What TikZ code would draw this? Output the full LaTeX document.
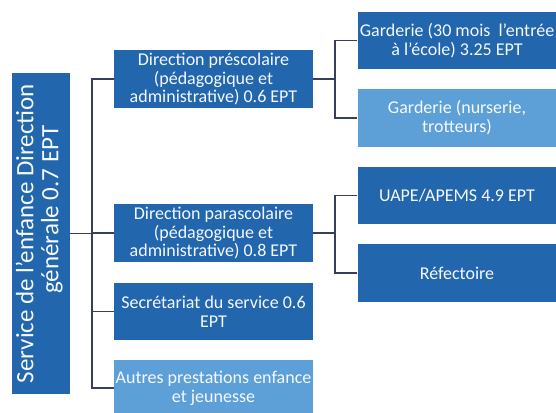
\documentclass[tikz,border=0pt]{standalone}
\usepackage{fontspec}
\setmainfont{Carlito}
\definecolor{dkblue}{RGB}{34,102,174}
\definecolor{ltblue}{RGB}{93,160,216}
\definecolor{linec}{RGB}{55,64,88}
\definecolor{txtw}{RGB}{246,249,253}
\begin{document}
\begin{tikzpicture}[x=1pt,y=-1pt,
  box/.style={fill=dkblue, text=txtw, minimum width=199pt, minimum height=58pt,
    inner sep=0pt, align=center, font=\fontsize{18}{18.8}\selectfont},
  lbox/.style={box, fill=ltblue},
  conn/.style={draw=linec, line width=1.5pt}]
\useasboundingbox (0,0) rectangle (556,412);
\fill[white] (0,0) rectangle (556,412);
\clip (0,0) rectangle (556,412);
% root
\node[box, minimum width=58.3pt, minimum height=321pt] (root) at (40.85,233.5)
  {\rotatebox{90}{\fontsize{25}{25}\selectfont\begin{tabular}{@{}c@{}}Service de l’enfance Direction\\\hspace*{1.9em}générale 0.7 EPT\end{tabular}}};
% middle column
\node[box] (b1) at (213.5,79) {Direction préscolaire\\(pédagogique et\\administrative) 0.6 EPT};
\node[box] (b2) at (213.5,233) {Direction parascolaire\\(pédagogique et\\administrative) 0.8 EPT};
\node[box, minimum height=57pt] (b3) at (213.5,311.5) {Secrétariat du service 0.6\\EPT};
\node[lbox, minimum height=57pt] (b4) at (213.5,388) {Autres prestations enfance\\et jeunesse};
% right column
\node[box, minimum height=57pt] (r1) at (457,40.5) {Garderie (30 mois\ \ l’entrée\\à l’école) 3.25 EPT};
\node[lbox] (r2) at (457,118) {Garderie (nurserie,\\trotteurs)};
\node[box, minimum height=57pt] (r3) at (457,195.5) {UAPE/APEMS 4.9 EPT};
\node[box] (r4) at (457,273) {Réfectoire};
% connectors
\coordinate (v0) at (92,233.5);
\draw[conn] (root.east) -- (v0);
\draw[conn] (b1.west) -| (v0) |- (b4.west);
\draw[conn] (v0) |- (b2.west);
\draw[conn] (v0) |- (b3.west);
\coordinate (v1) at (335,79);
\draw[conn] (b1.east) -- (v1);
\draw[conn] (r1.west) -| (v1) |- (r2.west);
\coordinate (v2) at (335,233);
\draw[conn] (b2.east) -- (v2);
\draw[conn] (r3.west) -| (v2) |- (r4.west);
\end{tikzpicture}
\end{document}
